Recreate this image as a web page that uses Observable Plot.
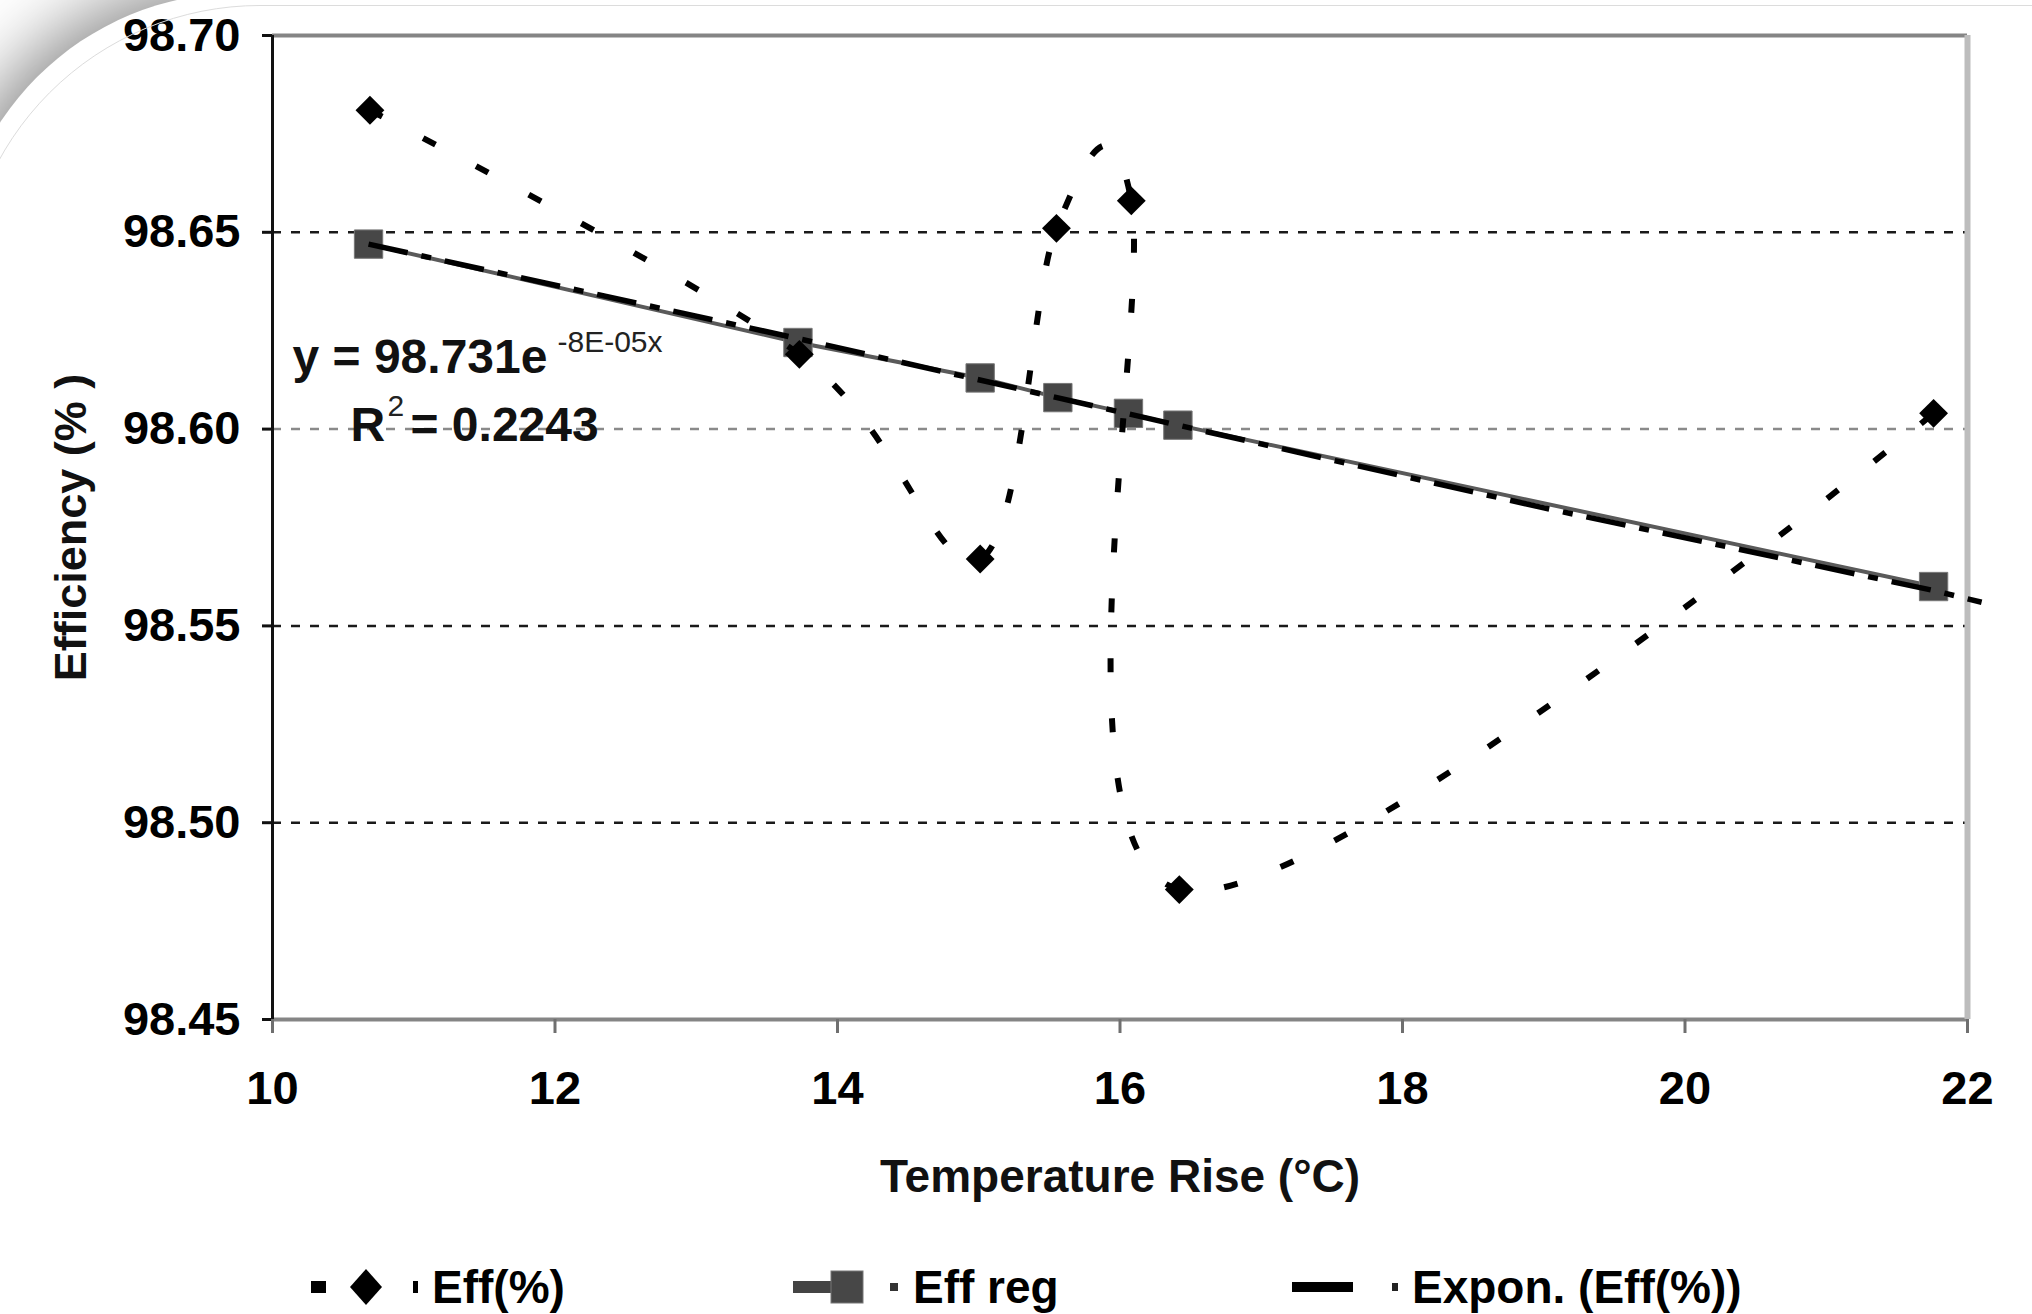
<!DOCTYPE html>
<html>
<head>
<meta charset="utf-8">
<script src="https://cdn.jsdelivr.net/npm/d3@7"></script>
<script src="https://cdn.jsdelivr.net/npm/@observablehq/plot@0.6"></script>
<style>
  html, body { margin: 0; padding: 0; background: white; }
  #page { position: relative; width: 2032px; height: 1314px; overflow: hidden; background: white;
          font-family: "Liberation Sans", Arial, sans-serif; }
  #chart { position: absolute; left: 0; top: 0; }
  #shade { position: absolute; left: -47px; top: -7px; width: 2300px; height: 1500px;
           border-top-left-radius: 287px; background: transparent; z-index: 5;
           box-shadow: -12px -12px 70px 0 rgba(0,0,0,0.45), 0 0 0 500px white; }
  #rim { position: absolute; left: -38px; top: 5px; width: 2300px; height: 1500px;
         border: 1px solid #dcdcdc; border-top-left-radius: 298px; z-index: 6; }
  #legend { position: absolute; left: 0; top: 1255px; width: 2032px; height: 59px; }
  .lt { position: absolute; top: 32px; transform: translateY(-50%); font-size: 46px; font-weight: bold;
        color: #000; white-space: nowrap; line-height: 1; }
</style>
</head>
<body>
<div id="page">
  <div id="chart"></div>
  <div id="legend"></div>
  <div id="shade"></div>
  <div id="rim"></div>
</div>
<script>
// ---- data ----
const effX = [10.69, 13.73, 15.01, 15.55, 16.08, 16.42, 21.76];
const effY = [98.681, 98.619, 98.567, 98.651, 98.658, 98.483, 98.604];

const regX = [10.68, 13.72, 15.01, 15.56, 16.06, 16.41, 21.76];
const regY = [98.647, 98.622, 98.613, 98.608, 98.604, 98.601, 98.560];

const trendX = [10.68, 13.72, 16.41, 19.0, 21.76, 22.1];
const trendY = [98.647, 98.623, 98.601, 98.580, 98.559, 98.556];

const xTicks = [10, 12, 14, 16, 18, 20, 22];
const yTicks = [98.45, 98.50, 98.55, 98.60, 98.65, 98.70];
const gridY = [98.50, 98.55, 98.60, 98.65];

const xLabel = "Temperature Rise (\u00B0C)";
const yLabel = "Efficiency (% )";
const eqMain = "y = 98.731e";
const eqExp = "-8E-05x";
const r2Main = "R";
const r2Sup = "2";
const r2Val = "= 0.2243";
const seriesNames = ["Eff(%)", "Eff reg", "Expon. (Eff(%))"];

// ---- tables ----
const eff = effX.map((x, i) => ({x, y: effY[i]}));
const reg = regX.map((x, i) => ({x, y: regY[i]}));
const trend = trendX.map((x, i) => ({x, y: trendY[i]}));

const W = 2032, H = 1255;
const mL = 272, mR = 65, mT = 35, mB = H - 1019;

const note = (txt, px, py, size, weight, fill) =>
  Plot.text([txt], {frameAnchor: "top-left", dx: px - mL, dy: py - mT, textAnchor: "start",
                    lineAnchor: "middle", fontSize: size, fontWeight: weight, fill});

const chart = Plot.plot({
  width: W, height: H,
  marginLeft: mL, marginRight: mR, marginTop: mT, marginBottom: mB,
  x: {domain: [10, 22]},
  y: {domain: [98.45, 98.70]},
  style: {fontFamily: "'Liberation Sans', Arial, sans-serif", fontWeight: "bold", fontSize: "47px",
          background: "transparent", color: "black", overflow: "visible"},
  marks: [
    // gridlines
    Plot.ruleY(gridY, {filter: d => d !== 98.60, stroke: "#1a1a1a", strokeWidth: 2.5, strokeDasharray: "9,10"}),
    Plot.ruleY(gridY, {filter: d => d === 98.60, stroke: "#8a8a8a", strokeWidth: 2.5, strokeDasharray: "9,10"}),
    // frame edges
    Plot.ruleY([98.70], {stroke: "#858585", strokeWidth: 4}),
    Plot.ruleY([98.45], {stroke: "#858585", strokeWidth: 4}),
    Plot.ruleX([22], {stroke: "#bdbdbd", strokeWidth: 6}),
    Plot.ruleX([10], {stroke: "#111", strokeWidth: 3}),
    // axes
    Plot.axisY({ticks: yTicks, tickFormat: d => d.toFixed(2), tickSize: 10, tickPadding: 22,
                stroke: "#111", strokeWidth: 3, label: null, fontSize: 47}),
    Plot.axisX({ticks: xTicks, tickFormat: d => String(d), tickSize: 14, tickPadding: 37,
                stroke: "#6f6f6f", strokeWidth: 3, label: null, fontSize: 47}),
    // axis titles
    Plot.text([xLabel], {frameAnchor: "bottom", dy: 158, lineAnchor: "middle", textAnchor: "middle",
                         fontSize: 46, fontWeight: "bold", fill: "#111"}),
    Plot.text([yLabel], {frameAnchor: "left", dx: 71 - mL, rotate: -90, lineAnchor: "middle", textAnchor: "middle",
                         fontSize: 45, fontWeight: "bold", fill: "#111"}),
    // Eff reg series
    Plot.line(reg, {x: "x", y: "y", stroke: "#5a5a5a", strokeWidth: 4}),
    Plot.dot(reg, {x: "x", y: "y", symbol: "square", r: 16, fill: "#474747", stroke: "#777", strokeWidth: 1}),
    // exponential trendline
    Plot.line(trend, {x: "x", y: "y", stroke: "#000", strokeWidth: 5.5, strokeLinecap: "butt",
                      strokeDasharray: "40,14,10,14"}),
    // Eff(%) series
    Plot.line(eff, {x: "x", y: "y", curve: "cardinal", stroke: "#000", strokeWidth: 6, strokeLinecap: "butt",
                    strokeDasharray: "14,46"}),
    Plot.dot(eff, {x: "x", y: "y", symbol: "diamond2", r: 13, fill: "#000"}),
    // equation annotation
    note(eqMain, 292, 357, 48, "bold", "#111"),
    note(eqExp, 557, 342, 30, "normal", "#222"),
    note(r2Main, 350, 425, 48, "bold", "#111"),
    note(r2Sup, 387, 406, 30, "normal", "#222"),
    note(r2Val, 410, 425, 48, "bold", "#111")
  ]
});
document.getElementById("chart").appendChild(chart);

// ---- legend (below the chart) ----
const legend = document.getElementById("legend");
const ns = "http://www.w3.org/2000/svg";
const lsvg = document.createElementNS(ns, "svg");
lsvg.setAttribute("width", W);
lsvg.setAttribute("height", 59);
lsvg.style.position = "absolute";
lsvg.style.left = "0";
lsvg.style.top = "0";
const cy = 32;
lsvg.innerHTML = `
  <rect x="311" y="${cy - 6}" width="15" height="12" fill="#000"/>
  <path d="M366,${cy - 18} L382,${cy} L366,${cy + 18} L350,${cy} Z" fill="#000"/>
  <rect x="413" y="${cy - 6}" width="5" height="12" fill="#000"/>
  <rect x="793" y="${cy - 6}" width="42" height="12" fill="#444"/>
  <rect x="831" y="${cy - 16}" width="32" height="32" fill="#474747" stroke="#777" stroke-width="1"/>
  <rect x="890" y="${cy - 4}" width="8" height="8" fill="#333"/>
  <rect x="1292" y="${cy - 5}" width="61" height="10" fill="#000"/>
  <rect x="1392" y="${cy - 4}" width="6" height="8" fill="#222"/>
`;
legend.appendChild(lsvg);
const textLefts = [432, 913, 1412];
seriesNames.forEach((name, i) => {
  const s = document.createElement("span");
  s.className = "lt";
  s.style.left = textLefts[i] + "px";
  s.textContent = name;
  legend.appendChild(s);
});
</script>
</body>
</html>
